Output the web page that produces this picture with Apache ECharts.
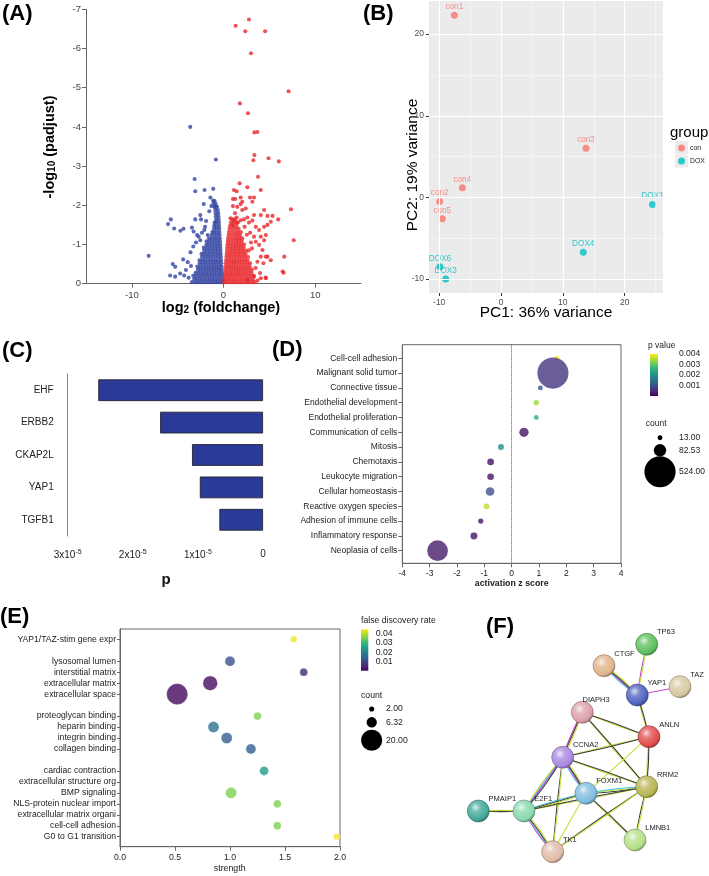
<!DOCTYPE html>
<html><head><meta charset="utf-8">
<script src="https://cdn.jsdelivr.net/npm/echarts@6/dist/echarts.min.js"></script>
<style>html,body{margin:0;padding:0;background:#fff}#c{width:709px;height:876px}</style>
</head><body><div id="c"></div><script>
// ---------------- DATA ----------------
// (A) volcano plot: log2 fold change vs -log10 padj
const volcanoBlueCoreRows = [
 [0.04,[-0.05,-0.32,-0.6,-0.88,-1.15,-1.44,-1.72,-2.0,-2.3,-2.58,-2.86,-3.15,-3.45]],
 [0.12,[-0.1,-0.38,-0.66,-0.94,-1.22,-1.5,-1.78,-2.06,-2.35,-2.64,-2.92,-3.2]],
 [0.2,[-0.14,-0.42,-0.7,-0.98,-1.26,-1.55,-1.83,-2.12,-2.4,-2.7,-3.0,-3.3]],
 [0.28,[-0.17,-0.45,-0.73,-1.02,-1.3,-1.6,-1.88,-2.17,-2.46,-2.75,-3.05]],
 [0.36,[-0.2,-0.48,-0.76,-1.05,-1.34,-1.63,-1.92,-2.2,-2.5,-2.8]],
 [0.44,[-0.22,-0.5,-0.79,-1.08,-1.37,-1.66,-1.95,-2.25,-2.55,-2.85]],
 [0.52,[-0.24,-0.52,-0.82,-1.1,-1.4,-1.7,-2.0,-2.3,-2.6]],
 [0.6,[-0.26,-0.55,-0.84,-1.13,-1.43,-1.72,-2.02,-2.32,-2.62]],
 [0.68,[-0.28,-0.57,-0.86,-1.16,-1.45,-1.75,-2.05,-2.35]],
 [0.76,[-0.3,-0.6,-0.9,-1.2,-1.5,-1.8,-2.1,-2.4]],
 [0.84,[-0.32,-0.62,-0.91,-1.21,-1.51,-1.81,-2.12]],
 [0.92,[-0.34,-0.63,-0.93,-1.23,-1.53,-1.84,-2.15]],
 [1.0,[-0.36,-0.65,-0.95,-1.25,-1.55,-1.86]],
 [1.08,[-0.38,-0.67,-0.96,-1.26,-1.56,-1.85]],
 [1.16,[-0.4,-0.69,-0.98,-1.28,-1.58]],
 [1.24,[-0.42,-0.71,-1.0,-1.3]],
 [1.32,[-0.44,-0.73,-1.02,-1.22]],
 [1.4,[-0.46,-0.75,-1.04]],
 [1.48,[-0.48,-0.77,-1.02]],
 [1.56,[-0.5,-0.79,-0.98]],
 [1.64,[-0.52,-0.81]],
 [1.72,[-0.55,-0.84]],
 [1.8,[-0.58,-0.87]],
 [1.88,[-0.62,-0.9]],
 [1.96,[-0.7,-1.0]],
 [2.04,[-0.85,-1.1]]
];
const volcanoBlueScatter = [[-3.63,4.0],[-0.83,3.17],[-3.15,2.67],[-2.07,2.39],[-3.08,2.36],[-1.12,2.42],[-1.43,2.2],[-1.13,2.12],[-0.97,2.11],[-2.16,2.03],[-1.32,1.98],[-0.86,1.96],[-2.53,1.75],[-3.08,1.64],[-2.45,1.64],[-5.75,1.64],[-6.05,1.52],[-5.38,1.41],[-4.36,1.4],[-4.7,1.35],[-3.44,1.43],[-3.26,1.33],[-2.89,1.24],[-2.01,1.45],[-2.09,1.37],[-1.72,1.24],[-2.53,1.11],[-2.71,1.2],[-8.16,0.71],[-5.53,0.5],[-5.27,0.43],[-5.82,0.21],[-5.27,0.18],[-4.73,0.26],[-4.29,0.21],[-3.9,0.55],[-4.1,0.35],[-3.6,0.8],[-3.3,0.95],[-3.0,1.05],[-4.4,0.62],[-3.8,0.15],[-3.55,0.45],[-2.35,1.3],[-1.9,1.6],[-1.55,1.85]];
const volcanoRedCoreRows = [
 [0.04,[0.05,0.3,0.58,0.85,1.12,1.4,1.7,1.98,2.25,2.55,2.85,3.15,3.4]],
 [0.12,[0.1,0.36,0.64,0.92,1.2,1.48,1.77,2.05,2.34,2.62,2.9,3.2]],
 [0.2,[0.13,0.4,0.68,0.96,1.25,1.53,1.82,2.1,2.4,2.7,3.0,3.3]],
 [0.28,[0.16,0.44,0.72,1.0,1.3,1.58,1.86,2.15,2.45,2.75,3.05]],
 [0.36,[0.19,0.47,0.76,1.05,1.34,1.62,1.9,2.2,2.5,2.8,3.1]],
 [0.44,[0.22,0.5,0.8,1.08,1.37,1.66,1.95,2.25,2.55,2.85]],
 [0.52,[0.25,0.54,0.83,1.12,1.4,1.7,2.0,2.3,2.6,2.9]],
 [0.6,[0.28,0.58,0.87,1.16,1.45,1.74,2.03,2.33,2.62]],
 [0.68,[0.31,0.62,0.9,1.2,1.5,1.78,2.07,2.38,2.68]],
 [0.76,[0.34,0.66,0.95,1.24,1.53,1.82,2.12,2.42]],
 [0.84,[0.37,0.7,1.0,1.28,1.57,1.86,2.16,2.46]],
 [0.92,[0.4,0.72,1.04,1.33,1.62,1.9,2.2]],
 [1.0,[0.43,0.75,1.08,1.37,1.66,1.95,2.25]],
 [1.08,[0.47,0.8,1.13,1.42,1.7,2.0]],
 [1.16,[0.5,0.84,1.18,1.47,1.76,2.05]],
 [1.24,[0.55,0.9,1.24,1.53,1.82]],
 [1.32,[0.6,0.95,1.3,1.6,1.9]],
 [1.4,[0.66,1.0,1.35,1.65]],
 [1.48,[0.72,1.08,1.42]],
 [1.56,[0.8,1.15,1.45]],
 [1.64,[0.95,1.25]]
];
const volcanoRedScatter = [[2.78,6.74],[1.32,6.58],[2.38,6.44],[4.54,6.44],[3.0,5.88],[7.1,4.91],[1.79,4.6],[2.67,4.35],[3.37,3.86],[3.7,3.87],[3.37,3.28],[3.26,3.15],[4.91,3.2],[6.04,3.12],[3.77,2.73],[1.76,2.56],[2.6,2.46],[4.07,2.39],[1.14,2.39],[1.43,2.36],[1.03,2.16],[1.28,2.16],[1.87,2.2],[2.89,2.2],[3.33,2.2],[3.15,2.09],[2.05,2.09],[1.03,1.98],[1.5,1.96],[1.87,2.03],[4.43,1.88],[7.36,1.9],[2.05,1.88],[2.42,1.92],[3.33,1.75],[4.07,1.75],[4.8,1.73],[5.35,1.73],[5.97,1.64],[5.16,1.58],[4.8,1.5],[4.43,1.45],[0.77,1.67],[1.14,1.62],[1.43,1.69],[1.57,1.56],[1.87,1.62],[2.23,1.64],[2.6,1.69],[2.78,1.56],[3.15,1.61],[3.52,1.45],[3.88,1.37],[4.07,1.2],[4.43,1.11],[4.62,1.24],[7.66,1.11],[3.33,1.2],[3.52,1.07],[3.88,0.99],[4.25,0.86],[4.07,0.69],[4.62,0.69],[3.7,0.56],[4.36,0.52],[6.63,0.69],[6.45,0.31],[6.56,0.28],[3.99,0.27],[4.07,0.14],[4.62,0.14],[3.33,0.18],[3.7,0.08],[2.6,0.09],[4.6,0.16],[5.16,0.6],[4.8,0.69],[2.3,1.45],[1.0,1.5],[1.25,1.8],[2.9,1.3],[3.1,0.9],[3.5,0.4],[2.55,1.25],[3.0,1.05],[2.75,0.85]];
const volcanoXTicks = [-10,0,10];

// (B) PCA
const pcaConNames = ['con1','con2','con3','con4','con5'];
const pcaConPC1 = [-7.55,-9.92,13.75,-6.26,-9.5];
const pcaConPC2 = [22.3,-0.49,6.03,1.18,-2.62];
const pcaDoxNames = ['DOX1','DOX3','DOX4','DOX6'];
const pcaDoxPC1 = [24.5,-8.95,13.3,-9.87];
const pcaDoxPC2 = [-0.86,-10.0,-6.7,-8.5];
const pcaTicks = [-10,0,10,20];
const pcaMinorX = [-5,5,15,25];
const pcaMinorY = [-5,5,15];

// (C) upstream regulators p
const cGenes = ['EHF','ERBB2','CKAP2L','YAP1','TGFB1'];
const cP = [2.53e-5,1.58e-5,1.09e-5,0.97e-5,0.67e-5];

// (D) IPA functions
const dTerms = ['Cell-cell adhesion','Malignant solid tumor','Connective tissue','Endothelial development','Endothelial proliferation','Communication of cells','Mitosis','Chemotaxis','Leukocyte migration','Cellular homeostasis','Reactive oxygen species','Adhesion of immune cells','Inflammatory response','Neoplasia of cells'];
const dZ = [1.66,1.51,1.05,0.90,0.90,0.45,-0.39,-0.77,-0.77,-0.79,-0.92,-1.13,-1.38,-2.71];
const dCount = [13,524,13,15,13,47,20,24,24,41,18,15,26,232];
const dP = [0.0040,0.0006,0.0010,0.0034,0.0026,0.0002,0.0020,0.0002,0.0002,0.0010,0.0036,0.0002,0.0002,0.0003];
const dPTicks = [0.004,0.003,0.002,0.001];
const dCountLegend = [13.00,82.53,524.00];

// (E) enrichment
const eTerms = ['YAP1/TAZ-stim gene expr','lysosomal lumen','interstitial matrix','extracellular matrix','extracellular space','proteoglycan binding','heparin binding','integrin binding','collagen binding','cardiac contraction','extracellular structure org','BMP signaling','NLS-protein nuclear import','extracellular matrix organi','cell-cell adhesion','G0 to G1 transition'];
const eSlot = [0,2,3,4,5,7,8,9,10,12,13,14,15,16,17,18];
const eStrength = [1.58,1.0,1.67,0.82,0.52,1.25,0.85,0.97,1.19,1.31,null,1.01,1.43,null,1.43,1.97];
const eCount = [3,6,4,11,20,4,7,7,6,5,null,7,4,null,4,3];
const eFDR = [0.044,0.011,0.0045,0.0015,0.001,0.036,0.017,0.0135,0.0135,0.024,null,0.036,0.036,null,0.036,0.0445];
const eFdrTicks = [0.04,0.03,0.02,0.01];
const eCountLegend = [2.00,6.32,20.00];

// (F) STRING network (layout units)
const fNodes = ['TP63','CTGF','YAP1','TAZ','DIAPH3','ANLN','CCNA2','RRM2','FOXM1','PMAIP1','E2F1','LMNB1','TK1'];
const fX = [176.7,134,167.3,210,112.3,179,92.7,176.7,116,8.3,54,165,82.7];
const fY = [14.3,35.7,65,56.7,82.3,106.7,127.3,156.7,163.3,181,181,210,221.7];
const fColors = ['#5cbf5c','#e0b48c','#5060c0','#d8c8a0','#dca0a8','#e04c4c','#a888e0','#b8b454','#80bce0','#40a898','#88d8b0','#b4e088','#e0bca8'];
const fEdges = [
 ['CTGF','YAP1','cmky'],['TP63','YAP1','my'],['TAZ','YAP1','m'],['YAP1','ANLN','yk'],
 ['DIAPH3','ANLN','yk'],['DIAPH3','CCNA2','mky'],['DIAPH3','RRM2','yk'],['ANLN','CCNA2','yk'],
 ['ANLN','RRM2','yk'],['ANLN','FOXM1','y'],['CCNA2','RRM2','yk'],['CCNA2','FOXM1','cmky'],
 ['CCNA2','E2F1','ycmk'],['CCNA2','TK1','ky'],['FOXM1','RRM2','kyc'],['FOXM1','E2F1','cky'],
 ['E2F1','RRM2','yk'],['FOXM1','TK1','y'],['FOXM1','LMNB1','yk'],['RRM2','LMNB1','ky'],
 ['RRM2','TK1','ky'],['E2F1','TK1','mcky'],['PMAIP1','E2F1','ky']
];

// ---------------- BUILD ----------------
const FF = 'Liberation Sans, Arial, Helvetica, sans-serif';
const viridis = ['#440154','#482878','#3e4989','#31688e','#26828e','#1f9e89','#35b779','#6ece58','#b5de2b','#fde725'];
const flat = rows => { const o=[]; rows.forEach(r => r[1].forEach(x => o.push([x, r[0]]))); return o; };
const blueData = flat(volcanoBlueCoreRows).concat(volcanoBlueScatter);
const redData = flat(volcanoRedCoreRows).concat(volcanoRedScatter);

const dSize = c => 1.36*Math.sqrt(c);
const eSize = c => 3.3*Math.pow(c,0.62);

function shade(hex,f){const n=parseInt(hex.slice(1),16);let r=n>>16,g=(n>>8)&255,b=n&255;
 if(f>=0){r+=(255-r)*f;g+=(255-g)*f;b+=(255-b)*f;}else{r*=1+f;g*=1+f;b*=1+f;}
 return 'rgb('+Math.round(r)+','+Math.round(g)+','+Math.round(b)+')';}

const evColor = {k:'#3a3a3a', y:'#c6dc3a', m:'#cc44cc', c:'#44c4e4', b:'#4a6ad0'};
const fIdx = {}; fNodes.forEach((n,i)=>fIdx[n]=i);
const fLinks = [];
fEdges.forEach(([s,t,ev]) => {
  const a=fIdx[s], b=fIdx[t];
  const L = Math.hypot(fX[a]-fX[b], fY[a]-fY[b]);
  const n = ev.length;
  for (let i=0;i<n;i++){
    const off = (i-(n-1)/2)*1.25;
    fLinks.push({source:s, target:t, lineStyle:{color:evColor[ev[i]], width:1.1, curveness: 2*off/L, opacity:1}});
  }
});
const labelDx = {DIAPH3:-11};
const fData = fNodes.map((n,i)=>({
  name:n, value:[fX[i],fY[i]], symbolSize:22,
  itemStyle:{color:{type:'radial',x:0.38,y:0.34,r:0.7,colorStops:[
    {offset:0,color:shade(fColors[i],0.8)},{offset:0.3,color:shade(fColors[i],0.25)},
    {offset:0.8,color:fColors[i]},{offset:1,color:shade(fColors[i],-0.35)}]},
    borderColor:shade(fColors[i],-0.45), borderWidth:0.5},
  label:{show:true, position:'right', distance:0, offset:[labelDx[n]!==undefined?labelDx[n]:-1,-12],
    fontSize:7.5, color:'#222', fontFamily:FF}
}));

const dData = dTerms.map((t,i)=>[dZ[i], i, dCount[i], dP[i]]);
const eData = [];
eTerms.forEach((t,i)=>{ if(eStrength[i]!==null) eData.push([eStrength[i], eSlot[i], eCount[i], eFDR[i]]); });
const slotName = {}; eSlot.forEach((s,i)=>slotName[s]=eTerms[i]);

const conData = pcaConNames.map((n,i)=>({name:n, value:[pcaConPC1[i], pcaConPC2[i]]}));
const doxData = pcaDoxNames.map((n,i)=>({name:n, value:[pcaDoxPC1[i], pcaDoxPC2[i]]}));

const gridLineData = [];
pcaTicks.forEach(v=>{gridLineData.push({xAxis:v, lineStyle:{color:'#fff', width:1.1, type:'solid'}}); gridLineData.push({yAxis:v, lineStyle:{color:'#fff', width:1.1, type:'solid'}});});
pcaMinorX.forEach(v=>gridLineData.push({xAxis:v, lineStyle:{color:'#fff', width:0.5, type:'solid'}}));
pcaMinorY.forEach(v=>gridLineData.push({yAxis:v, lineStyle:{color:'#fff', width:0.5, type:'solid'}}));

const txt = (o) => Object.assign({type:'text', silent:true}, o);
const graphics = [];
[['(A)',2,3],['(B)',363,3],['(C)',2,340],['(D)',272,339],['(E)',0,606],['(F)',486,616]].forEach(([t,x,y])=>
  graphics.push(txt({left:x, top:y, style:{text:t, font:'bold 22px '+FF, fill:'#000'}})));
graphics.push(txt({x:50, y:147, rotation:Math.PI/2, style:{text:'{b|-log}{s|10}{b| (padjust)}', align:'center', verticalAlign:'middle',
  rich:{b:{fontSize:14.5, fontWeight:'bold', fontFamily:FF, color:'#111'}, s:{fontSize:10, fontWeight:'bold', fontFamily:FF, color:'#111', verticalAlign:'bottom', padding:[5,0,0,0]}}}}));
graphics.push(txt({x:221, y:308, style:{text:'{b|log}{s|2}{b| (foldchange)}', align:'center', verticalAlign:'middle',
  rich:{b:{fontSize:14.5, fontWeight:'bold', fontFamily:FF, color:'#111'}, s:{fontSize:10, fontWeight:'bold', fontFamily:FF, color:'#111', verticalAlign:'bottom', padding:[5,0,0,0]}}}}));
graphics.push(txt({x:413, y:165, rotation:Math.PI/2, style:{text:'PC2: 19% variance', align:'center', verticalAlign:'middle', font:'15.5px '+FF, fill:'#000'}}));
graphics.push(txt({x:546, y:313, style:{text:'PC1: 36% variance', align:'center', verticalAlign:'middle', font:'15.5px '+FF, fill:'#000'}}));
graphics.push(txt({left:670, top:125, style:{text:'group', font:'15px '+FF, fill:'#000'}}));
graphics.push({type:'rect', silent:true, shape:{x:675,y:141,width:13,height:13}, style:{fill:'#EBEBEB'}});
graphics.push({type:'rect', silent:true, shape:{x:675,y:154.5,width:13,height:13}, style:{fill:'#EBEBEB'}});
graphics.push(txt({x:166, y:580, style:{text:'p', align:'center', verticalAlign:'middle', font:'bold 15px '+FF, fill:'#111'}}));
graphics.push(txt({x:511.7, y:584, style:{text:'activation z score', align:'center', verticalAlign:'middle', font:'bold 8.8px '+FF, fill:'#222'}}));
graphics.push(txt({x:648, y:345.5, style:{text:'p value', align:'left', verticalAlign:'middle', font:'8.5px '+FF, fill:'#222'}}));
const dBar = {x:650, y:354, w:8, h:42, min:0, max:0.004};
graphics.push({type:'rect', silent:true, shape:{x:dBar.x, y:dBar.y, width:dBar.w, height:dBar.h},
  style:{fill:{type:'linear', x:0, y:1, x2:0, y2:0, colorStops:viridis.map((c,i)=>({offset:i/(viridis.length-1), color:c}))}}});
dPTicks.forEach(v=>graphics.push(txt({x:679, y:dBar.y+dBar.h-(v-dBar.min)/(dBar.max-dBar.min)*dBar.h, style:{text:v.toFixed(3), align:'left', verticalAlign:'middle', font:'8.5px '+FF, fill:'#222'}})));
graphics.push(txt({x:645.7, y:424, style:{text:'count', align:'left', verticalAlign:'middle', font:'8.5px '+FF, fill:'#222'}}));
[437.7,450.3,471.7].forEach((cy,i)=>{
  graphics.push({type:'circle', silent:true, shape:{cx:660, cy:cy, r:dSize(dCountLegend[i])/2}, style:{fill:'#000'}});
  graphics.push(txt({x:679, y:cy, style:{text:dCountLegend[i].toFixed(2), align:'left', verticalAlign:'middle', font:'8.5px '+FF, fill:'#222'}}));
});
graphics.push(txt({x:229.7, y:869, style:{text:'strength', align:'center', verticalAlign:'middle', font:'8.8px '+FF, fill:'#222'}}));
graphics.push(txt({x:361, y:621, style:{text:'false discovery rate', align:'left', verticalAlign:'middle', font:'8.7px '+FF, fill:'#222'}}));
const eBar = {x:361, y:629.3, w:7.3, h:41.4, min:0, max:0.045};
graphics.push({type:'rect', silent:true, shape:{x:eBar.x, y:eBar.y, width:eBar.w, height:eBar.h},
  style:{fill:{type:'linear', x:0, y:1, x2:0, y2:0, colorStops:viridis.map((c,i)=>({offset:i/(viridis.length-1), color:c}))}}});
eFdrTicks.forEach(v=>graphics.push(txt({x:375.7, y:eBar.y+eBar.h-(v-eBar.min)/(eBar.max-eBar.min)*eBar.h, style:{text:v.toFixed(2), align:'left', verticalAlign:'middle', font:'8.7px '+FF, fill:'#222'}})));
graphics.push(txt({x:361, y:695.7, style:{text:'count', align:'left', verticalAlign:'middle', font:'8.7px '+FF, fill:'#222'}}));
[709,722.3,740.3].forEach((cy,i)=>{
  graphics.push({type:'circle', silent:true, shape:{cx:371.7, cy:cy, r:eSize(eCountLegend[i])/2}, style:{fill:'#000'}});
  graphics.push(txt({x:386, y:cy, style:{text:eCountLegend[i].toFixed(2), align:'left', verticalAlign:'middle', font:'8.7px '+FF, fill:'#222'}}));
});

const axisGray = {onZero:false, lineStyle:{color:'#666', width:1}};
const option = {
  animation:false,
  backgroundColor:'#fff',
  textStyle:{fontFamily:FF},
  grid:[
    {left:86, top:9.3, width:275, height:274.4},
    {left:429, top:1, width:234, height:292, show:true, backgroundColor:'#EBEBEB', borderWidth:0},
    {left:67.7, top:374, width:195.3, height:162},
    {left:402.3, top:344.7, width:218.7, height:218.6, show:true, borderColor:'#666', borderWidth:1},
    {left:120, top:629, width:220, height:217.7, show:true, borderColor:'#666', borderWidth:1},
    {left:470, top:630, width:220, height:230}
  ],
  xAxis:[
    {gridIndex:0, type:'value', min:-15, max:15, axisLine:axisGray, axisTick:{length:4, lineStyle:{color:'#666'}, customValues:volcanoXTicks},
      axisLabel:{customValues:volcanoXTicks, color:'#444', fontSize:9.5, margin:7}, splitLine:{show:false}},
    {gridIndex:1, type:'value', min:-11.65, max:26.2, axisLine:{show:false, onZero:false}, axisTick:{length:3, lineStyle:{color:'#333'}, customValues:pcaTicks},
      axisLabel:{customValues:pcaTicks, color:'#4D4D4D', fontSize:8.5, margin:5}, splitLine:{show:false}},
    {gridIndex:2, type:'value', min:0, max:3e-5, interval:1e-5, inverse:true, axisLine:{onZero:false, lineStyle:{color:'#888'}}, axisTick:{length:4, lineStyle:{color:'#888'}},
      axisLabel:{color:'#222', margin:13, formatter:v=>{const n=Math.round(v*1e5); return n===0?'{m|0}':'{m|'+n+'x10}{e|-5}';},
        rich:{m:{fontSize:10, color:'#222', fontFamily:FF}, e:{fontSize:7, color:'#222', fontFamily:FF, verticalAlign:'top', padding:[0,0,5,0]}}}, splitLine:{show:false}},
    {gridIndex:3, type:'value', min:-4, max:4, interval:1, axisLine:axisGray, axisTick:{length:4, lineStyle:{color:'#666'}},
      axisLabel:{color:'#222', fontSize:8.5, margin:6}, splitLine:{show:false}},
    {gridIndex:4, type:'value', min:0, max:2, interval:0.5, axisLine:axisGray, axisTick:{length:4, lineStyle:{color:'#666'}},
      axisLabel:{color:'#222', fontSize:8.7, margin:6, formatter:v=>v.toFixed(1)}, splitLine:{show:false}},
    {gridIndex:5, type:'value', min:0, max:220, show:false}
  ],
  yAxis:[
    {gridIndex:0, type:'value', min:0, max:7, interval:1, axisLine:{show:true, onZero:false, lineStyle:{color:'#666'}}, axisTick:{show:true, length:4, lineStyle:{color:'#666'}},
      axisLabel:{color:'#444', fontSize:9.5, margin:5, formatter:v=>v===0?'0':'-'+v}, splitLine:{show:false}},
    {gridIndex:1, type:'value', min:-11.7, max:24.06, axisLine:{show:false, onZero:false}, axisTick:{show:true, length:3, lineStyle:{color:'#333'}, customValues:pcaTicks},
      axisLabel:{customValues:pcaTicks, color:'#4D4D4D', fontSize:8.5, margin:5}, splitLine:{show:false}},
    {gridIndex:2, type:'category', data:cGenes, inverse:true, axisLine:{onZero:false, lineStyle:{color:'#888'}}, axisTick:{alignWithLabel:true, length:7, lineStyle:{color:'#888'}},
      axisLabel:{color:'#222', fontSize:10, margin:14}},
    {gridIndex:3, type:'value', min:-0.92, max:13.85, inverse:true, axisLine:{show:true, onZero:false, lineStyle:{color:'#666'}},
      axisTick:{show:true, length:4, lineStyle:{color:'#666'}, customValues:dTerms.map((t,i)=>i)},
      axisLabel:{customValues:dTerms.map((t,i)=>i), color:'#222', fontSize:8.5, margin:5, formatter:v=>dTerms[Math.round(v)]||''}, splitLine:{show:false}},
    {gridIndex:4, type:'value', min:-0.94, max:18.91, inverse:true, axisLine:{show:true, onZero:false, lineStyle:{color:'#666'}},
      axisTick:{show:true, length:3, lineStyle:{color:'#666'}, customValues:eSlot},
      axisLabel:{customValues:eSlot, color:'#222', fontSize:8.6, margin:4, formatter:v=>slotName[Math.round(v)]||''}, splitLine:{show:false}},
    {gridIndex:5, type:'value', min:0, max:230, inverse:true, show:false}
  ],
  visualMap:[
    {type:'continuous', show:false, seriesIndex:6, dimension:3, min:0, max:0.004, inRange:{color:viridis}},
    {type:'continuous', show:false, seriesIndex:7, dimension:3, min:0, max:0.045, inRange:{color:viridis}}
  ],
  legend:{data:['con','DOX'], orient:'vertical', left:678, top:144.5, itemWidth:7, itemHeight:7, itemGap:6, icon:'circle',
    textStyle:{fontSize:6.8, color:'#222', lineHeight:7, fontFamily:FF}, padding:0, selectedMode:false},
  series:[
    {name:'down', type:'scatter', xAxisIndex:0, yAxisIndex:0, data:blueData, symbolSize:4.1, itemStyle:{color:'#3345A2'}, silent:true},
    {name:'up', type:'scatter', xAxisIndex:0, yAxisIndex:0, data:redData, symbolSize:4.1, itemStyle:{color:'#E8282C'}, silent:true},
    {name:'pcaGrid', type:'scatter', xAxisIndex:1, yAxisIndex:1, data:[], z:1, silent:true,
      markLine:{silent:true, symbol:['none','none'], label:{show:false}, data:gridLineData, animation:false}},
    {name:'con', type:'scatter', xAxisIndex:1, yAxisIndex:1, data:conData, symbolSize:7, itemStyle:{color:'#F8766D'}, z:3,
      label:{show:true, position:'top', distance:1, formatter:'{b}', color:'#F8766D', fontSize:8.2, fontFamily:FF}},
    {name:'DOX', type:'scatter', xAxisIndex:1, yAxisIndex:1, data:doxData, symbolSize:7, itemStyle:{color:'#00BFC4'}, z:3,
      label:{show:true, position:'top', distance:1, formatter:'{b}', color:'#00BFC4', fontSize:8.2, fontFamily:FF}},
    {name:'p', type:'bar', xAxisIndex:2, yAxisIndex:2, data:cP, barWidth:21.7, itemStyle:{color:'#2B3A98', borderColor:'#1a1a1a', borderWidth:0.8}, silent:true},
    {name:'ipa', type:'scatter', xAxisIndex:3, yAxisIndex:3, data:dData, symbolSize:v=>dSize(v[2]), silent:true,
      markLine:{silent:true, symbol:['none','none'], label:{show:false}, lineStyle:{type:'dotted', color:'#555', width:1}, data:[{xAxis:0}]}},
    {name:'enrich', type:'scatter', xAxisIndex:4, yAxisIndex:4, data:eData, symbolSize:v=>eSize(v[2]), silent:true,
      itemStyle:{borderColor:'rgba(255,255,255,0.6)', borderWidth:0.5}},
    {name:'network', type:'graph', coordinateSystem:'cartesian2d', xAxisIndex:5, yAxisIndex:5, data:fData, links:fLinks,
      symbol:'circle', edgeSymbol:['none','none'], silent:true, emphasis:{disabled:true}}
  ],
  graphic:graphics
};
const chart = echarts.init(document.getElementById('c'));
chart.setOption(option);
</script></body></html>
